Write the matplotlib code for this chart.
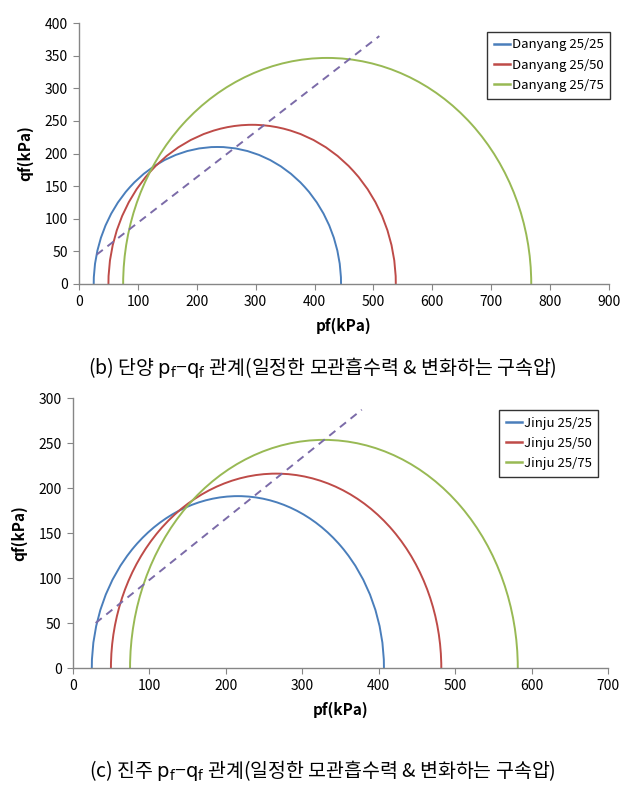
import matplotlib
matplotlib.use("Agg")
import matplotlib.pyplot as plt
from matplotlib.patches import Arc
from matplotlib.lines import Line2D

plt.rcParams['font.family'] = ['Noto Sans CJK KR', 'DejaVu Sans']

# Danyang: (start pf, end pf) of each failure circle
dy_labels = ["Danyang 25/25", "Danyang 25/50", "Danyang 25/75"]
dy_start = [25, 50, 75]
dy_end = [445, 538, 768]
dy_line_x = [30, 510]
dy_line_y = [45, 380]

# Jinju
jj_labels = ["Jinju 25/25", "Jinju 25/50", "Jinju 25/75"]
jj_start = [25, 50, 75]
jj_end = [407, 482, 582]
jj_line_x = [30, 378]
jj_line_y = [50, 287]

colors = ["#4A7EBB", "#BE4B48", "#98B954"]
dash_color = "#7B6BA8"
axis_color = "#868686"


def draw(ax, labels, starts, ends, lx, ly, xmax, xstep, ymax, ystep, legend_bbox):
    for s, e, c in zip(starts, ends, colors):
        d = e - s
        ax.add_patch(Arc(((s + e) / 2, 0), d, d, theta1=0, theta2=180,
                         color=c, lw=1.4))
    ax.plot(lx, ly, ls=(0, (4, 3)), color=dash_color, lw=1.4)
    ax.set_xlim(0, xmax)
    ax.set_ylim(0, ymax)
    ax.set_xticks(range(0, xmax + 1, xstep))
    ax.set_yticks(range(0, ymax + 1, ystep))
    for sp in ["top", "right"]:
        ax.spines[sp].set_visible(False)
    for sp in ["left", "bottom"]:
        ax.spines[sp].set_color(axis_color)
        ax.spines[sp].set_linewidth(1)
    ax.tick_params(direction="out", length=4, color=axis_color,
                   labelsize=10, pad=4)
    ax.set_xlabel("pf(kPa)", fontsize=11, fontweight="bold", labelpad=6)
    ax.set_ylabel("qf(kPa)", fontsize=11, fontweight="bold", labelpad=8)
    handles = [Line2D([0], [0], color=c, lw=1.8) for c in colors]
    leg = ax.legend(handles, labels, loc="upper right",
                    bbox_to_anchor=legend_bbox, fontsize=9.5, frameon=True,
                    fancybox=False, edgecolor="black", handlelength=1.2,
                    handletextpad=0.15, borderpad=0.5, labelspacing=0.55,
                    borderaxespad=0)
    leg.get_frame().set_linewidth(1.0)


fig = plt.figure(figsize=(6.36, 7.86), dpi=100)

ax1 = fig.add_axes([0.1242, 0.6387, 0.8333, 0.332])
draw(ax1, dy_labels, dy_start, dy_end, dy_line_x, dy_line_y,
     900, 100, 400, 50, (1.002, 0.966))

ax2 = fig.add_axes([0.1143, 0.1501, 0.8417, 0.3435])
draw(ax2, jj_labels, jj_start, jj_end, jj_line_x, jj_line_y,
     700, 100, 300, 50, (0.982, 0.956))

fig.text(0.507, 0.533,
         "(b) 단양 $\\mathrm{p_f}$−$\\mathrm{q_f}$ 관계(일정한 모관흡수력 & 변화하는 구속압)",
         ha="center", va="center", fontsize=14)
fig.text(0.507, 0.02,
         "(c) 진주 $\\mathrm{p_f}$−$\\mathrm{q_f}$ 관계(일정한 모관흡수력 & 변화하는 구속압)",
         ha="center", va="center", fontsize=14)

fig.savefig("out.png", dpi=100)
